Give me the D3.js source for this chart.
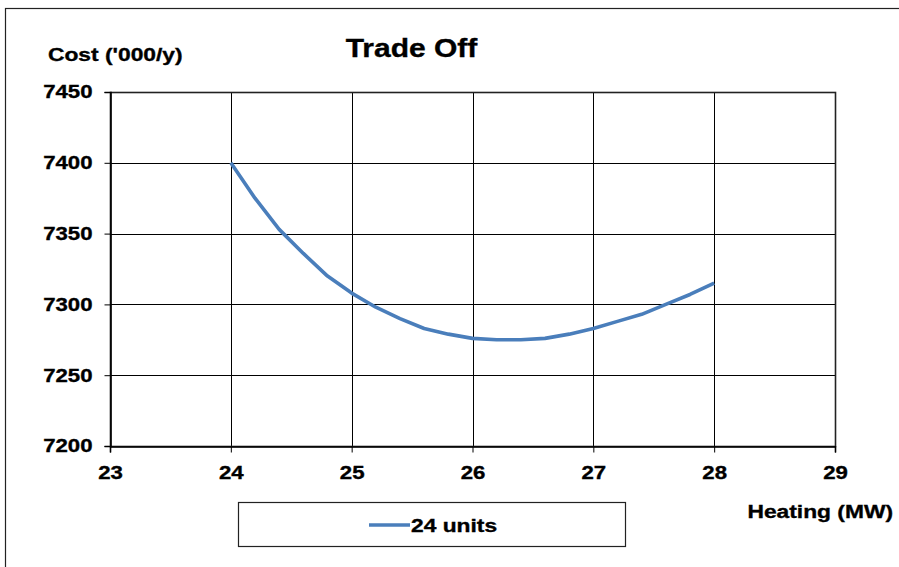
<!DOCTYPE html>
<html>
<head>
<meta charset="utf-8">
<script src="https://cdn.jsdelivr.net/npm/d3@7"></script>
<style>
  html, body { margin: 0; padding: 0; background: #fff; }
  svg { display: block; font-family: "Liberation Sans", Arial, sans-serif; font-weight: bold; }
</style>
</head>
<body>
<svg id="chart" width="899" height="567"></svg>
<script>
// Heating load (MW) against yearly cost ('000/y) for the 24-unit case
const heating = [24.0, 24.2, 24.4, 24.6, 24.8, 25.0, 25.2, 25.4, 25.6, 25.8, 26.0,
                 26.2, 26.4, 26.6, 26.8, 27.0, 27.2, 27.4, 27.6, 27.8, 28.0];
const cost24  = [7400, 7375, 7353, 7336, 7320, 7308, 7298, 7290, 7283, 7279, 7276,
                 7275, 7275, 7276, 7279, 7283, 7288, 7293, 7300, 7307, 7315];
const xTicks = [23, 24, 25, 26, 27, 28, 29];
const yTicks = [7200, 7250, 7300, 7350, 7400, 7450];
const seriesName = "24 units";

const FONT = "Liberation Sans, Arial, sans-serif";
const STRETCH = 1.2;   // wide lettering used throughout the chart

const svg = d3.select("#chart");
const plot = { left: 110, right: 835, top: 92, bottom: 446 };

const x = d3.scaleLinear().domain([23, 29]).range([plot.left, plot.right]);
const y = d3.scaleLinear().domain([7200, 7450]).range([plot.bottom, plot.top]);

// text helper: places a horizontally widened label with its anchor at (px, py)
function label(px, py, str, size, anchor) {
  return svg.append("text")
    .attr("transform", `translate(${px},${py}) scale(${STRETCH},1)`)
    .attr("text-anchor", anchor || "start")
    .attr("font-size", size)
    .attr("font-family", FONT)
    .attr("font-weight", "bold")
    .attr("fill", "#000")
    .attr("stroke", "#000").attr("stroke-width", 0.35)
    .text(str);
}

// outer chart frame (only top and left edges fall inside the view)
svg.append("rect")
  .attr("x", 5.5).attr("y", 8.5).attr("width", 1000).attr("height", 1000)
  .attr("fill", "none").attr("stroke", "#222").attr("stroke-width", 1.2);

// gridlines
svg.append("g").selectAll("line").data(xTicks).join("line")
  .attr("x1", d => Math.round(x(d)) + 0.5).attr("x2", d => Math.round(x(d)) + 0.5)
  .attr("y1", plot.top).attr("y2", plot.bottom)
  .attr("stroke", "#000").attr("stroke-width", 1);
svg.append("g").selectAll("line").data(yTicks).join("line")
  .attr("x1", plot.left).attr("x2", plot.right)
  .attr("y1", d => Math.round(y(d)) + 0.5).attr("y2", d => Math.round(y(d)) + 0.5)
  .attr("stroke", "#000").attr("stroke-width", 1);

// plot area frame
svg.append("rect")
  .attr("x", plot.left + 0.5).attr("y", plot.top + 0.5)
  .attr("width", plot.right - plot.left).attr("height", plot.bottom - plot.top)
  .attr("fill", "none").attr("stroke", "#222").attr("stroke-width", 1.6);

// axes
function styleAxis(g) {
  g.select(".domain").attr("stroke", "#000").attr("stroke-width", 1.6);
  g.selectAll(".tick line").attr("stroke", "#000");
  g.selectAll(".tick text")
    .attr("fill", "#000").attr("font-size", 18.5)
    .attr("stroke", "#000").attr("stroke-width", 0.35)
    .attr("font-weight", "bold").attr("font-family", FONT)
    .each(function () {
      const t = d3.select(this);
      const tx = +t.attr("x") || 0;
      t.attr("x", tx / STRETCH).attr("transform", `scale(${STRETCH},1)`);
    });
}

const xAxis = d3.axisBottom(x).tickValues(xTicks).tickSize(6).tickPadding(13).tickFormat(d3.format("d"));
const gx = svg.append("g").attr("transform", `translate(0,${plot.bottom + 0.5})`).call(xAxis);
styleAxis(gx);

const yAxis = d3.axisLeft(y).tickValues(yTicks).tickSize(6).tickPadding(12).tickFormat(d3.format("d"));
const gy = svg.append("g").attr("transform", `translate(${plot.left + 0.5},0)`).call(yAxis);
styleAxis(gy);

// cost curve
const pts = heating.map((h, i) => [h, cost24[i]]);
svg.append("path")
  .datum(pts)
  .attr("fill", "none")
  .attr("stroke", "#4a7ebb")
  .attr("stroke-width", 3.6)
  .attr("stroke-linejoin", "round")
  .attr("d", d3.line().x(d => x(d[0])).y(d => y(d[1])));

// titles
label(411.5, 57, "Trade Off", 25, "middle");
label(48, 61, "Cost ('000/y)", 19);
label(893, 518, "Heating (MW)", 19, "end");

// legend
svg.append("rect").attr("x", 238.5).attr("y", 502.5).attr("width", 387).attr("height", 44)
  .attr("fill", "#fff").attr("stroke", "#222").attr("stroke-width", 1.2);
svg.append("line").attr("x1", 369).attr("x2", 410).attr("y1", 525).attr("y2", 525)
  .attr("stroke", "#4a7ebb").attr("stroke-width", 3.6);
label(411, 532, seriesName, 19);
</script>
</body>
</html>
